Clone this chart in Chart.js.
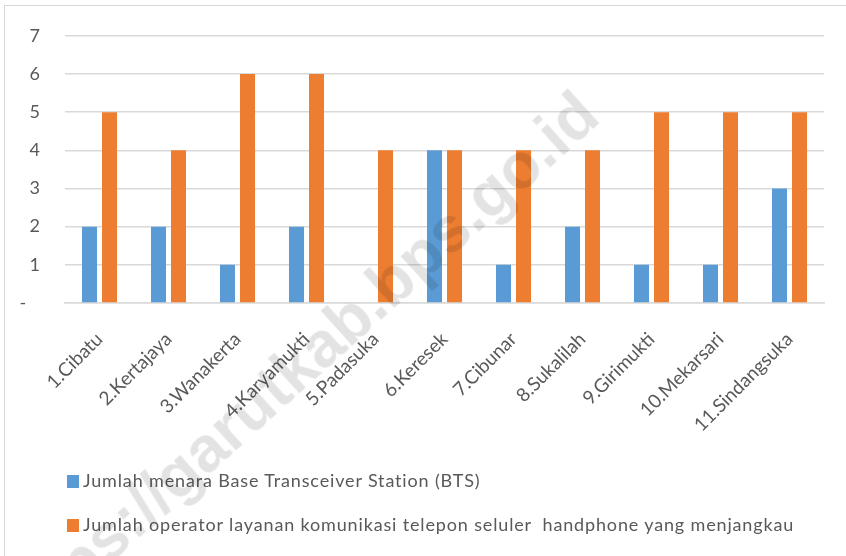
<!DOCTYPE html>
<html>
<head>
<meta charset="utf-8">
<script src="https://cdn.jsdelivr.net/npm/chart.js@4/dist/chart.umd.min.js"></script>
<style>
  body { margin: 0; background: #fff; }
  #wrap { position: relative; width: 846px; height: 556px; overflow: hidden; }
  #frame { position: absolute; left: 4px; top: 5px; width: 900px; height: 600px; border: 1px solid #d9d9d9; }
  #plot { position: absolute; left: 0; top: 0; }
  .leg { position: absolute; left: 67px; font-family: Lato, "Noto Sans", sans-serif; font-size: 18px; letter-spacing: 0.85px;
         color: #595959; white-space: pre; }
  .leg span { display: inline-block; width: 12px; height: 13px; margin-right: 4px; vertical-align: -1px; }
  #mark { position: absolute; left: 0; top: 0; transform-origin: 100% 50%;
          font-family: "Liberation Sans", Arial, sans-serif; font-weight: bold; font-size: 64px; line-height: 64px;
          color: rgba(0,0,0,0.11); white-space: nowrap; }
</style>
</head>
<body>
<div id="wrap">
  <div id="frame"></div>
  <canvas id="plot" width="846" height="556"></canvas>
  <div id="legend"></div>
  <div id="mark">https://garutkab.bps.go.id</div>
</div>
<script>
// desa / kelurahan
const villages = [
    "1.Cibatu",
    "2.Kertajaya",
    "3.Wanakerta",
    "4.Karyamukti",
    "5.Padasuka",
    "6.Keresek",
    "7.Cibunar",
    "8.Sukalilah",
    "9.Girimukti",
    "10.Mekarsari",
    "11.Sindangsuka"
];
const btsCount = [2, 2, 1, 2, 0, 4, 1, 2, 1, 1, 3];
const operatorCount = [5, 4, 6, 6, 4, 4, 4, 4, 5, 5, 5];
const seriesNames = [
    "Jumlah menara Base Transceiver Station (BTS)",
    "Jumlah operator layanan komunikasi telepon seluler  handphone yang menjangkau"
];
const seriesColors = ['#5b9bd5', '#ed7d31'];
const yTicks = [0, 1, 2, 3, 4, 5, 6, 7];

const font = "Lato, 'Noto Sans', sans-serif";

/* legend sits under the chart, done in html so it lines up with the plot edge */
var buildLegend = () => {
    const tops = [469, 513];
    const box = document.getElementById('legend');
    seriesNames.forEach((name, i) => {
        const row = document.createElement('div');
        row.className = 'leg';
        row.style.top = tops[i] + 'px';
        const sq = document.createElement('span');
        sq.style.background = seriesColors[i];
        row.appendChild(sq);
        row.appendChild(document.createTextNode(name));
        box.appendChild(row);
    });
};

/* watermark: right end of the text pinned near the top of the plot, rotated up */
var placeMark = () => {
    const m = document.getElementById('mark');
    const w = m.offsetWidth, h = m.offsetHeight;
    m.style.left = (588 - w) + 'px';
    m.style.top = (104 - h / 2) + 'px';
    m.style.transform = 'rotate(-42deg)';
};

const data = {
    labels: villages,
    datasets: [
        { label: seriesNames[0], data: btsCount, backgroundColor: seriesColors[0] },
        { label: seriesNames[1], data: operatorCount, backgroundColor: seriesColors[1] }
    ]
};

const config = {
    type: 'bar',
    data: data,
    options: {
        responsive: false,
        animation: false,
        layout: { padding: { top: 24, right: 22, left: 0, bottom: 0 } },
        datasets: { bar: { categoryPercentage: 0.58, barPercentage: 0.75 } },
        plugins: { legend: { display: false }, tooltip: { enabled: false } },
        scales: {
            x: {
                grid: { display: false, drawTicks: false },
                border: { color: '#d9d9d9', width: 1.5 },
                ticks: {
                    color: '#595959', font: { family: font, size: 19 },
                    minRotation: 45, maxRotation: 45, padding: 25, autoSkip: false
                },
                afterFit: (s) => { s.height = 253; }
            },
            y: {
                min: 0, max: 7,
                afterBuildTicks: (s) => { s.ticks = yTicks.map(v => ({ value: v })); },
                grid: { color: '#d9d9d9', lineWidth: 1.5, drawTicks: false },
                border: { display: false },
                ticks: {
                    color: '#595959', font: { family: font, size: 18 }, padding: 25,
                    callback: (v) => v === 0 ? '-   ' : v
                },
                afterFit: (s) => { s.width = 65; }
            }
        }
    }
};

buildLegend();
placeMark();
const myChart = new Chart(document.getElementById('plot'), config);
</script>
</body>
</html>
